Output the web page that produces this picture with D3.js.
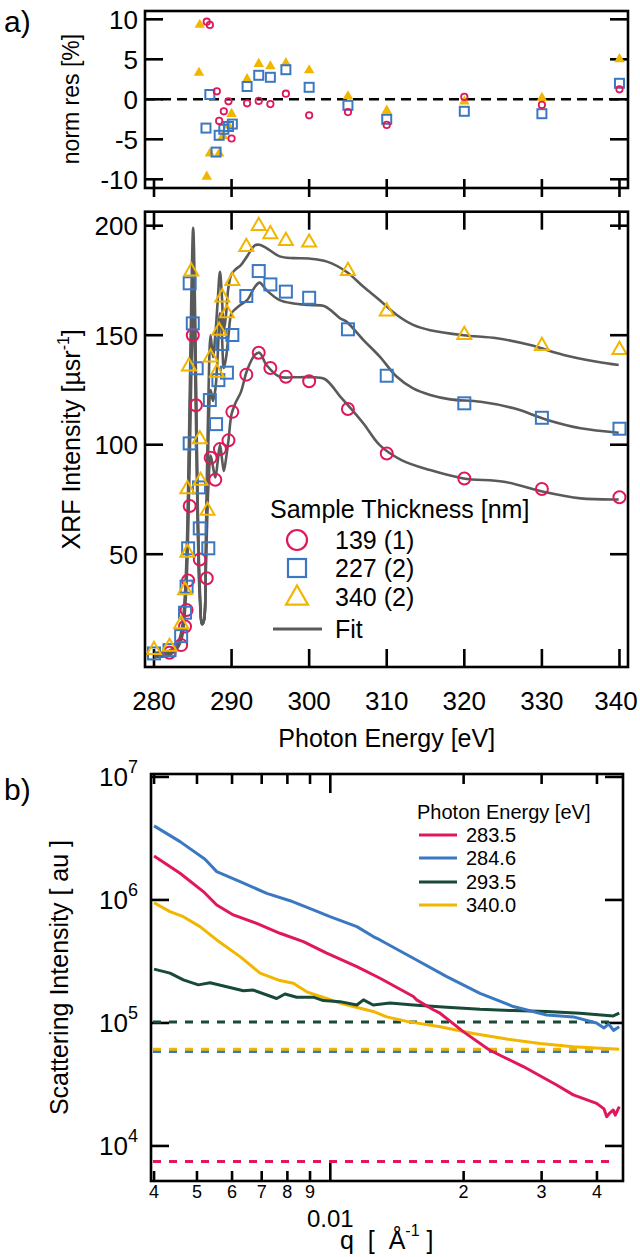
<!DOCTYPE html>
<html><head><meta charset="utf-8">
<script src="https://cdn.jsdelivr.net/npm/d3@7"></script>
<style>body{margin:0;background:#fff}svg{display:block}text{font-family:"Liberation Sans",Arial,Helvetica,sans-serif}</style>
</head><body>
<svg id="c" width="640" height="1257"></svg>
<script>
// ---------- DATA ----------
const energyTicks = [280, 290, 300, 310, 320, 330, 340];
const resTicks = [-10, -5, 0, 5, 10];
const intTicks = [50, 100, 150, 200];
const legendA = ["139 (1)", "227 (2)", "340 (2)", "Fit"];
const legendB = ["283.5", "284.6", "293.5", "340.0"];

// residuals [eV, %]
const res139 = [[286.8,9.7],[287.2,9.3],[288.1,1.0],[288.4,-2.7],[289.0,-1.5],[289.6,-0.25],[290.0,-4.9],[292.0,-0.5],[293.5,-0.2],[295.0,-0.6],[297.0,0.7],[300.0,-2.0],[305.0,-1.6],[310.0,-3.2],[320.0,0.3],[330.0,-0.7],[340.0,1.25]];
const res227 = [[287.2,0.6],[286.7,-3.6],[288.0,-6.6],[288.4,-4.5],[289.0,-3.75],[289.6,-3.4],[290.1,-3.1],[292.0,1.6],[293.5,3.0],[295.0,2.75],[297.0,3.7],[300.0,1.5],[305.0,-0.75],[310.0,-2.5],[320.0,-1.5],[330.0,-1.8],[340.0,2.0]];
const res340 = [[285.9,9.4],[285.8,3.4],[286.8,-9.6],[287.2,-6.7],[288.4,-6.7],[288.9,-4.5],[289.6,-3.2],[290.0,-1.75],[292.0,2.6],[293.5,4.5],[295.0,4.2],[297.0,4.6],[300.0,3.7],[305.0,0.45],[310.0,-1.35],[320.0,-0.2],[330.0,0.25],[340.0,5.1]];

// XRF intensity [eV, µsr^-1]
const xrf139 = [[282.0,5],[283.5,8.5],[284.0,17],[284.2,24.5],[284.4,38],[284.6,72],[285.0,150],[285.4,118],[285.9,47.6],[286.8,39],[287.3,94],[287.9,84],[288.5,98],[289.6,102],[290.1,115],[291.9,132],[293.5,142],[295.0,135],[297.0,131],[300.0,129],[305.0,116.3],[310.0,96],[320.0,84.6],[330.0,79.8],[340.0,76]];
const xrf227 = [[280.0,4.7],[282.0,6.2],[283.5,12.6],[284.0,23.3],[284.2,35.2],[284.4,52.7],[284.6,100.6],[284.6,173.7],[285.0,155.4],[285.5,134.9],[285.8,80.5],[285.9,61.8],[287.0,52.7],[287.2,120.4],[288.0,109.4],[288.3,129.5],[288.8,146],[289.4,132.9],[290.1,150.1],[291.9,167.9],[293.5,179.3],[295.0,173.2],[297.0,169.9],[300.0,167.1],[305.0,152.7],[310.0,131.5],[320.0,118.9],[330.0,112.3],[340.0,107.3]];
const xrf340 = [[280.0,6.7],[282.0,8.1],[283.5,18.4],[284.0,33.9],[284.3,51.1],[284.3,80.1],[284.5,136.1],[284.8,179.5],[285.9,102.9],[286.0,83.9],[286.9,70.2],[287.3,140.2],[288.1,133.3],[288.4,152.4],[288.8,167.6],[289.4,160.4],[290.1,175.2],[291.9,190.7],[293.5,200.3],[295.0,196.5],[297.0,193.4],[300.0,192.7],[305.0,179.7],[310.0,161.2],[320.0,150.5],[330.0,145.5],[340.0,143.7]];

const fit139 = [[280,3],[282,4],[283,7],[283.6,12],[284.1,30],[284.5,75],[284.8,130],[285.05,165],[285.3,135],[285.6,70],[285.9,30],[286.2,18],[286.45,20],[286.7,45],[287.0,80],[287.3,95],[287.6,90],[287.9,85],[288.2,92],[288.5,100],[288.75,94],[289.0,88],[289.3,94],[289.6,102],[290.0,114],[290.5,119],[291.2,124],[292.0,134],[293.0,141],[293.6,142],[294.5,136.4],[296.2,131],[298,130.8],[300,130.8],[302,130],[304,122],[304.8,118.9],[307,109.7],[309.1,99.8],[311.9,93],[315.6,88.4],[319.9,84.6],[325.1,83.1],[330.2,78.5],[335,75.5],[339.9,75]];
const fit227 = [[280,4],[282,5],[283,8],[283.6,14],[284.1,35],[284.5,90],[284.8,150],[285.05,185],[285.3,150],[285.6,75],[285.9,32],[286.2,18],[286.45,20],[286.7,50],[287.0,100],[287.3,125],[287.6,120],[287.9,125],[288.2,140],[288.5,160],[288.75,150],[289.0,135],[289.3,140],[289.6,150],[290.0,160],[290.5,162],[291.2,164],[292.0,166],[293.0,172],[293.6,174],[294.5,170.6],[296.2,166],[298,164.5],[300,163.8],[302,163.2],[304,157.7],[304.8,156.2],[307,147.8],[309.1,140.2],[311.3,131],[313.4,125.7],[315.6,122.7],[318.2,120.7],[322.1,119.6],[326.4,116.6],[330.7,111.3],[335,107.5],[339.9,105.5]];
const fit340 = [[280,5],[282,6],[283,9],[283.6,16],[284.1,40],[284.5,100],[284.8,165],[285.05,199],[285.3,160],[285.6,80],[285.9,35],[286.2,18],[286.45,20],[286.7,60],[287.0,120],[287.3,150],[287.6,140],[287.9,150],[288.2,165],[288.5,179],[288.75,168],[289.0,152],[289.3,160],[289.6,172],[290.0,178],[290.5,180],[291.2,182],[292.0,186],[293.0,191],[293.6,191.3],[294.5,189.8],[296.2,186],[298,185.2],[300,185],[302.3,183.6],[304.8,179],[307,172.1],[309.1,166],[311.3,159.2],[313.4,154.7],[315.6,152.3],[319.9,150],[324.2,148.6],[328.5,145.5],[332.8,141],[337.1,137.9],[339.9,136.4]];

// scattering [q Å^-1, intensity au]
const sc2835 = [[0.004,2.28e6],[0.004579,1.65e6],[0.005168,1.17e6],[0.005541,9.1e5],[0.00604,7.55e5],[0.00682,6.46e5],[0.007698,5.36e5],[0.008692,4.58e5],[0.009815,3.69e5],[0.01148,2.87e5],[0.01295,2.31e5],[0.0154,1.64e5],[0.01567,1.54e5],[0.01708,1.28e5],[0.01769,1.2e5],[0.01996,8.5e4],[0.02291,6.0e4],[0.02727,4.42e4],[0.03244,3.13e4],[0.03537,2.6e4],[0.03993,2.22e4],[0.0415,2.0e4],[0.04208,1.73e4],[0.0428,1.86e4],[0.04354,1.96e4],[0.044,1.78e4],[0.04492,2.09e4]];
const sc2846 = [[0.004,4.0e6],[0.004579,2.98e6],[0.005214,2.14e6],[0.005541,1.70e6],[0.006255,1.41e6],[0.007188,1.13e6],[0.008111,9.86e5],[0.009155,8.3e5],[0.009983,7.31e5],[0.01148,6.07e5],[0.0125,5.04e5],[0.01295,4.73e5],[0.0154,3.36e5],[0.01832,2.38e5],[0.02178,1.74e5],[0.02589,1.36e5],[0.0308,1.16e5],[0.03537,1.12e5],[0.0399,1.0e5],[0.0415,9.1e4],[0.0425,9.8e4],[0.0436,8.7e4],[0.04492,9.3e4]];
const sc2935 = [[0.004,2.74e5],[0.004346,2.54e5],[0.004658,2.24e5],[0.005036,2.04e5],[0.005351,2.12e5],[0.005837,1.97e5],[0.006363,1.83e5],[0.006701,1.85e5],[0.007568,1.58e5],[0.0079,1.72e5],[0.008399,1.62e5],[0.009155,1.62e5],[0.009644,1.52e5],[0.01052,1.49e5],[0.01148,1.4e5],[0.01188,1.54e5],[0.0125,1.4e5],[0.01364,1.45e5],[0.0154,1.4e5],[0.01832,1.34e5],[0.02178,1.29e5],[0.02589,1.26e5],[0.0308,1.24e5],[0.03662,1.2e5],[0.04354,1.14e5],[0.04492,1.2e5]];
const sc3400 = [[0.004,9.5e5],[0.004346,8.04e5],[0.004658,7.31e5],[0.00508,6.07e5],[0.005541,4.73e5],[0.006255,3.46e5],[0.00694,2.54e5],[0.007698,2.21e5],[0.008251,2.1e5],[0.008846,1.79e5],[0.009815,1.58e5],[0.01052,1.45e5],[0.01127,1.36e5],[0.0125,1.24e5],[0.01341,1.12e5],[0.01488,1.03e5],[0.01769,9.3e4],[0.02104,8.2e4],[0.02502,7.4e4],[0.02974,6.8e4],[0.03537,6.4e4],[0.04492,6.1e4]];
const bgLevels = [7.47e3, 5.85e4, 1.02e5, 6.1e4]; // dashed backgrounds: 283.5, 284.6, 293.5, 340.0
const qMinor = [0.004,0.005,0.006,0.007,0.008,0.009,0.02,0.03,0.04];
const qMinorLabels = ["4","5","6","7","8","9","2","3","4"];
const sTicks = [1e4, 1e5, 1e6, 1e7];
const sTickExp = ["4", "5", "6", "7"];

// ---------- STYLE ----------
const RED = "#E0185A", BLUE = "#3B78C2", YEL = "#F2B600", GRN = "#184A36", GRAY = "#5A5A5A";
const svg = d3.select("#c");
const FW = 2.6, TF = 26;

function frame(x0, x1, y0, y1) {
  svg.append("rect").attr("x", x0).attr("y", y0).attr("width", x1 - x0).attr("height", y1 - y0)
    .attr("fill", "none").attr("stroke", "#000").attr("stroke-width", FW);
}
function tick(x1, y1, x2, y2) {
  svg.append("line").attr("x1", x1).attr("y1", y1).attr("x2", x2).attr("y2", y2)
    .attr("stroke", "#000").attr("stroke-width", FW);
}
function triPath(cx, cy, w) {
  const h = w * 0.87;
  return `M${cx},${cy - h * 0.6}L${cx + w / 2},${cy + h * 0.4}L${cx - w / 2},${cy + h * 0.4}Z`;
}

// ---------- PANEL a) residuals ----------
const L1 = 145, R1 = 628;
const xE = d3.scaleLinear().domain([278.84, 341.1]).range([L1, R1]);
const yR = d3.scaleLinear().domain([-11.09, 11.04]).range([188, 11]);

resTicks.forEach(v => { tick(L1, yR(v), L1 + 18, yR(v)); tick(R1, yR(v), R1 - 18, yR(v)); });
energyTicks.forEach(v => tick(xE(v), 179, xE(v), 197));
svg.append("g").selectAll("text").data(resTicks).join("text")
  .attr("x", 138).attr("y", d => yR(d)).attr("dy", "0.36em").attr("text-anchor", "end")
  .attr("font-size", TF).text(d => d);
svg.append("line").attr("x1", L1).attr("x2", R1).attr("y1", yR(0)).attr("y2", yR(0))
  .attr("stroke", "#000").attr("stroke-width", 2.6).attr("stroke-dasharray", "10,6");

const gR = svg.append("g");
gR.selectAll(".t").data(res340).join("path").attr("d", d => triPath(xE(d[0]), yR(d[1]), 10.5)).attr("fill", YEL);
gR.selectAll(".s").data(res227).join("rect").attr("x", d => xE(d[0]) - 4.5).attr("y", d => yR(d[1]) - 4.5)
  .attr("width", 9).attr("height", 9).attr("fill", "none").attr("stroke", BLUE).attr("stroke-width", 2);
gR.selectAll(".c").data(res139).join("circle").attr("cx", d => xE(d[0])).attr("cy", d => yR(d[1])).attr("r", 3.2)
  .attr("fill", "none").attr("stroke", RED).attr("stroke-width", 1.8);
frame(L1, R1, 11, 188);

svg.append("text").attr("transform", "translate(79,99) rotate(-90)").attr("text-anchor", "middle")
  .attr("font-size", 23).text("norm res [%]");
svg.append("text").attr("x", 4).attr("y", 32).attr("font-family", "Liberation Serif, Times New Roman, serif")
  .attr("font-size", 30).text("a)");

// ---------- PANEL a) XRF ----------
const T2 = 211.7, B2 = 667;
const yI = d3.scaleLinear().domain([-1.5, 206.4]).range([B2, T2]);
intTicks.forEach(v => { tick(L1, yI(v), L1 + 18, yI(v)); tick(R1, yI(v), R1 - 18, yI(v)); });
energyTicks.forEach(v => { tick(xE(v), T2, xE(v), T2 + 18); tick(xE(v), B2, xE(v), B2 - 18); });
svg.append("g").selectAll("text").data(intTicks).join("text")
  .attr("x", 138).attr("y", d => yI(d)).attr("dy", "0.36em").attr("text-anchor", "end")
  .attr("font-size", TF).text(d => d);
svg.append("g").selectAll("text").data(energyTicks).join("text")
  .attr("x", d => Math.min(xE(d), 616)).attr("y", 710).attr("text-anchor", "middle")
  .attr("font-size", TF).text(d => d);
svg.append("text").attr("x", xE(310)).attr("y", 747).attr("text-anchor", "middle")
  .attr("font-size", 25).text("Photon Energy [eV]");
const ylab = svg.append("text").attr("transform", `translate(80,${(T2 + B2) / 2}) rotate(-90)`)
  .attr("text-anchor", "middle").attr("font-size", 25);
ylab.append("tspan").text("XRF Intensity [µsr");
ylab.append("tspan").attr("font-size", 16).attr("dy", -11).text("-1");
ylab.append("tspan").attr("dy", 11).text("]");

const lineE = d3.line().x(d => xE(d[0])).y(d => yI(d[1])).curve(d3.curveCatmullRom.alpha(0.5));
[fit139, fit227, fit340].forEach(f => svg.append("path").attr("d", lineE(f)).attr("fill", "none")
  .attr("stroke", GRAY).attr("stroke-width", 2.6));

const gI = svg.append("g");
gI.selectAll(".c").data(xrf139).join("circle").attr("cx", d => xE(d[0])).attr("cy", d => yI(d[1])).attr("r", 6)
  .attr("fill", "none").attr("stroke", RED).attr("stroke-width", 2);
gI.selectAll(".s").data(xrf227).join("rect").attr("x", d => xE(d[0]) - 6).attr("y", d => yI(d[1]) - 6)
  .attr("width", 12).attr("height", 12).attr("fill", "none").attr("stroke", BLUE).attr("stroke-width", 2);
gI.selectAll(".t").data(xrf340).join("path").attr("d", d => triPath(xE(d[0]), yI(d[1]), 14))
  .attr("fill", "none").attr("stroke", YEL).attr("stroke-width", 2);
frame(L1, R1, T2, B2);

// legend a)
svg.append("text").attr("x", 270).attr("y", 518).attr("font-size", 25).text("Sample Thickness [nm]");
const legY = [540, 568, 597, 629];
svg.append("circle").attr("cx", 297).attr("cy", legY[0]).attr("r", 10).attr("fill", "none").attr("stroke", RED).attr("stroke-width", 2.2);
svg.append("rect").attr("x", 288).attr("y", legY[1] - 9).attr("width", 18).attr("height", 18).attr("fill", "none").attr("stroke", BLUE).attr("stroke-width", 2.2);
svg.append("path").attr("d", triPath(297, legY[2], 22)).attr("fill", "none").attr("stroke", YEL).attr("stroke-width", 2.2);
svg.append("line").attr("x1", 273).attr("x2", 322).attr("y1", legY[3]).attr("y2", legY[3]).attr("stroke", GRAY).attr("stroke-width", 3);
legendA.forEach((t, i) => svg.append("text").attr("x", 335).attr("y", legY[i]).attr("dy", "0.36em").attr("font-size", 25).text(t));

// ---------- PANEL b) ----------
const L3 = 151, R3 = 623, T3 = 774, B3 = 1181;
const xQ = d3.scaleLog().domain([0.003937, 0.0458]).range([L3, R3]);
const yS = d3.scaleLog().domain([Math.pow(10, 3.715), Math.pow(10, 7.024)]).range([B3, T3]);

sTicks.forEach(v => { tick(L3, yS(v), L3 + 18, yS(v)); tick(R3, yS(v), R3 - 18, yS(v)); });
qMinor.forEach(v => { tick(xQ(v), B3, xQ(v), B3 - 10); tick(xQ(v), T3, xQ(v), T3 + 10); });
tick(xQ(0.01), B3, xQ(0.01), B3 - 19); tick(xQ(0.01), T3, xQ(0.01), T3 + 19);

const colors = [RED, BLUE, GRN, YEL];
const lineQ = d3.line().x(d => xQ(d[0])).y(d => yS(d[1]));
bgLevels.forEach((b, i) => svg.append("line").attr("x1", L3 + 2).attr("x2", 613).attr("y1", yS(b)).attr("y2", yS(b))
  .attr("stroke", colors[i]).attr("stroke-width", 3).attr("stroke-dasharray", "8,8"));
[sc3400, sc2935, sc2846, sc2835].forEach((s, k) => {
  const col = [YEL, GRN, BLUE, RED][k];
  svg.append("path").attr("d", lineQ(s)).attr("fill", "none").attr("stroke", col).attr("stroke-width", 3).attr("stroke-linejoin", "round");
});
frame(L3, R3, T3, B3);

const yt = svg.append("g");
sTicks.forEach((v, i) => {
  const t = yt.append("text").attr("x", 138).attr("y", yS(v)).attr("dy", "0.36em").attr("text-anchor", "end").attr("font-size", TF);
  t.append("tspan").text("10");
  t.append("tspan").attr("font-size", 18).attr("dy", -13).text(sTickExp[i]);
});
svg.append("g").selectAll("text").data(qMinor).join("text")
  .attr("x", d => xQ(d)).attr("y", 1198).attr("text-anchor", "middle").attr("font-size", 18)
  .text((d, i) => qMinorLabels[i]);
svg.append("text").attr("x", xQ(0.01)).attr("y", 1227).attr("text-anchor", "middle").attr("font-size", 24).text("0.01");
const qlab = svg.append("text").attr("x", 340).attr("y", 1249).attr("font-size", 25).attr("xml:space", "preserve");
qlab.append("tspan").text("q  [  Å");
qlab.append("tspan").attr("font-size", 16).attr("dy", -13).text("-1");
qlab.append("tspan").attr("dy", 13).text(" ]");
svg.append("text").attr("transform", `translate(68,${(T3 + B3) / 2}) rotate(-90)`).attr("text-anchor", "middle")
  .attr("font-size", 25).text("Scattering Intensity [ au ]");
svg.append("text").attr("x", 4).attr("y", 800).attr("font-family", "Liberation Serif, Times New Roman, serif")
  .attr("font-size", 30).text("b)");

// legend b)
svg.append("text").attr("x", 417).attr("y", 819).attr("font-size", 20).text("Photon Energy [eV]");
const legYB = [835, 858, 882, 905];
legendB.forEach((t, i) => {
  svg.append("line").attr("x1", 419).attr("x2", 457).attr("y1", legYB[i]).attr("y2", legYB[i]).attr("stroke", colors[i]).attr("stroke-width", 3);
  svg.append("text").attr("x", 466).attr("y", legYB[i]).attr("dy", "0.36em").attr("font-size", 20).text(t);
});
</script>
</body></html>
